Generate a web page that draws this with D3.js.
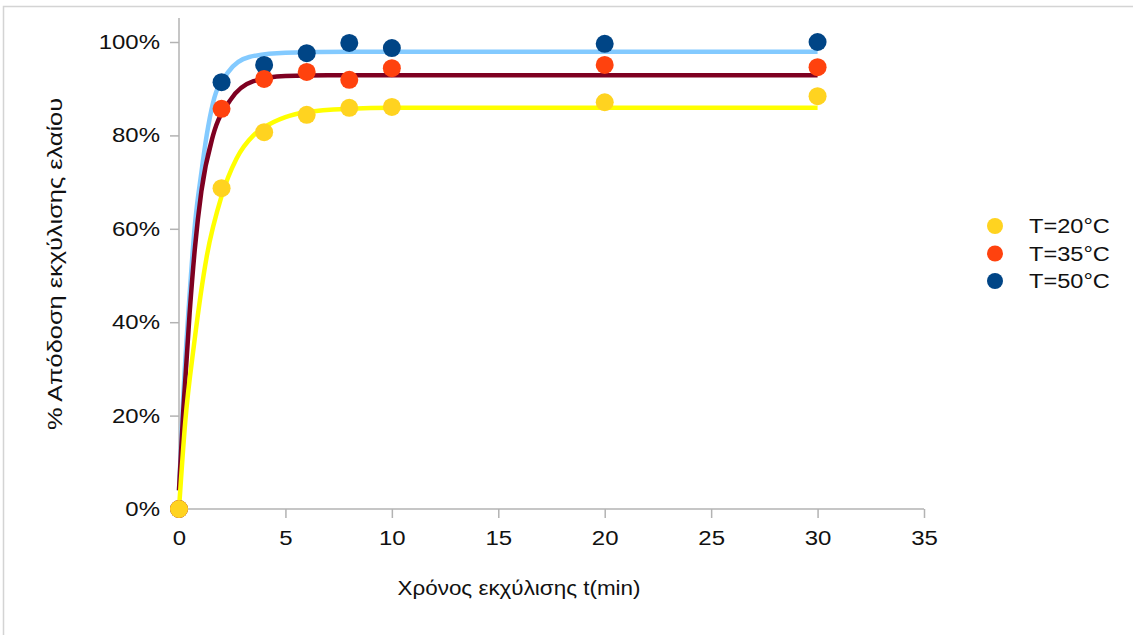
<!DOCTYPE html>
<html>
<head>
<meta charset="utf-8">
<script src="https://cdn.jsdelivr.net/npm/d3@7"></script>
<style>
  html, body { margin: 0; padding: 0; background: #fff; }
  svg { display: block; font-family: "Liberation Sans", Arial, sans-serif; }
</style>
</head>
<body>
<svg id="chart" width="1133" height="635"></svg>
<script>
// measured points (extraction time in min, yield as fraction)
const times = [0, 2, 4, 6, 8, 10, 20, 30];
const yield20 = [0, 0.687, 0.807, 0.844, 0.859, 0.861, 0.871, 0.884];
const yield35 = [0, 0.857, 0.921, 0.936, 0.919, 0.944, 0.951, 0.946];
const yield50 = [0, 0.914, 0.951, 0.976, 0.998, 0.987, 0.996, 1.0];

// fitted curves
const fit20T = [0, 0.3, 0.7, 1.3, 2, 2.7, 3.5, 4, 5, 6, 8, 10, 30];
const fit20Y = [0, 0.19, 0.35, 0.54, 0.67, 0.75, 0.80, 0.817, 0.839, 0.850, 0.857, 0.859, 0.859];
const fit35T = [0, 0.2, 0.5, 0.75, 1.05, 1.6, 2.4, 3.5, 5, 7, 10, 30];
const fit35Y = [0.04, 0.21, 0.42, 0.56, 0.68, 0.80, 0.875, 0.916, 0.927, 0.929, 0.929, 0.929];
const fit50T = [0, 0.2, 0.5, 0.75, 1.05, 1.3, 1.6, 2.3, 3.3, 5, 8, 30];
const fit50Y = [0.04, 0.24, 0.46, 0.61, 0.72, 0.80, 0.87, 0.935, 0.968, 0.977, 0.979, 0.979];

const seriesNames = ["T=20°C", "T=35°C", "T=50°C"];
const xTicks = [0, 5, 10, 15, 20, 25, 30, 35];
const yTicks = [0, 0.2, 0.4, 0.6, 0.8, 1.0];

// libreoffice default palette
const dotColors = ["#ffd320", "#ff420e", "#004586"];
const lineColors = ["#ffff00", "#7e0021", "#83caff"];

var svg = d3.select("#chart");

// the original text renders wider than Liberation Sans, so widen it a bit
function widen(sel, k) {
  sel.each(function() {
    var w = this.getComputedTextLength();
    d3.select(this).attr("textLength", w * k).attr("lengthAdjust", "spacingAndGlyphs");
  });
}

// thin frame of the original screenshot
svg.append("path")
  .attr("d", "M3.5,635 L3.5,6.5 L1133,6.5")
  .attr("fill", "none")
  .attr("stroke", "#d4d4d4")
  .attr("stroke-width", 1.5);

var x = d3.scaleLinear().domain([0, 35]).range([179, 924]);
var y = d3.scaleLinear().domain([0, 1.0514]).range([509, 18]);

// axes
var xAxis = svg.append("g")
  .attr("transform", "translate(0,509)")
  .call(d3.axisBottom(x).tickValues(xTicks).tickSize(9).tickPadding(12).tickFormat(d3.format("d")));
var yAxis = svg.append("g")
  .attr("transform", "translate(179,0)")
  .call(d3.axisLeft(y).tickValues(yTicks).tickSize(9).tickPadding(10).tickFormat(d3.format(".0%")));

[xAxis, yAxis].forEach(function(a) {
  a.select(".domain").attr("stroke", "#b3b3b3").attr("stroke-width", 1.5);
  a.selectAll(".tick line").attr("stroke", "#b3b3b3").attr("stroke-width", 1.5);
  a.selectAll(".tick text")
    .attr("fill", "#111")
    .style("font-size", "20.5px")
    .style("font-family", "'Liberation Sans', Arial, sans-serif")
    .call(widen, 1.17);
});
// y domain: no outer tick at the top
yAxis.select(".domain").attr("d", "M0,18V509");
xAxis.select(".domain").attr("d", "M179,0H924");

// axis titles
svg.append("text")
  .attr("x", 519).attr("y", 595)
  .attr("text-anchor", "middle")
  .attr("fill", "#111")
  .style("font-size", "19.5px")
  .text("Χρόνος εκχύλισης t(min)")
  .call(widen, 1.15);

svg.append("text")
  .attr("transform", "translate(62,264) rotate(-90)")
  .attr("text-anchor", "middle")
  .attr("fill", "#111")
  .style("font-size", "19.5px")
  .text("% Απόδοση εκχύλισης ελαίου")
  .call(widen, 1.3);

// fitted lines
var line = d3.line()
  .x(function(d) { return x(d[0]); })
  .y(function(d) { return y(d[1]); })
  .curve(d3.curveMonotoneX);

var fits = [
  d3.zip(fit20T, fit20Y),
  d3.zip(fit35T, fit35Y),
  d3.zip(fit50T, fit50Y)
];

[2, 1, 0].forEach(function(i) {
  svg.append("path")
    .datum(fits[i])
    .attr("d", line)
    .attr("fill", "none")
    .attr("stroke", lineColors[i])
    .attr("stroke-width", 4.5);
});

// measured dots
var measured = [
  d3.zip(times, yield20),
  d3.zip(times, yield35),
  d3.zip(times, yield50)
];

[2, 1, 0].forEach(function(i) {
  svg.append("g").selectAll("circle")
    .data(measured[i])
    .enter().append("circle")
      .attr("cx", function(d) { return x(d[0]); })
      .attr("cy", function(d) { return y(d[1]); })
      .attr("r", 9)
      .attr("fill", dotColors[i]);
});

// legend
var legend = svg.append("g").attr("transform", "translate(995,226)");
var item = legend.selectAll("g")
  .data(seriesNames)
  .enter().append("g")
    .attr("transform", function(d, i) { return "translate(0," + (i * 27.5) + ")"; });
item.append("circle")
  .attr("r", 8)
  .attr("fill", function(d, i) { return dotColors[i]; });
item.append("text")
  .attr("x", 34)
  .attr("dy", "0.36em")
  .attr("fill", "#111")
  .style("font-size", "20.5px")
  .text(function(d) { return d; })
  .call(widen, 1.15);
</script>
</body>
</html>
